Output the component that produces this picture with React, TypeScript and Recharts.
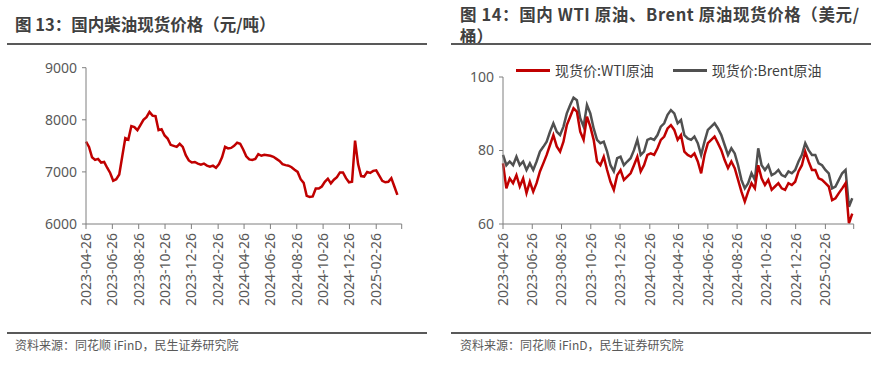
import React from "react";
import { LineChart, Line, XAxis, YAxis } from "recharts";

// weekly readings, starting 2023-04-26
const dieselPrice = [
  7580, 7480, 7280, 7230, 7250, 7180, 7190, 7080, 6980, 6830,
  6860, 6950, 7300, 7650, 7620, 7880, 7860, 7800, 7900, 8000,
  8050, 8150, 8080, 8070, 7800, 7820, 7700, 7640, 7520, 7500,
  7480, 7540, 7480, 7320, 7220, 7180, 7190, 7160, 7140, 7160,
  7120, 7100, 7120, 7080, 7150, 7280, 7480, 7450, 7460, 7500,
  7560, 7540, 7430, 7300, 7240, 7230, 7250, 7340, 7310, 7330,
  7320, 7310, 7290, 7250, 7210, 7150, 7130, 7120, 7090, 7040,
  7000, 6860, 6790, 6540, 6520, 6530, 6680, 6680, 6720, 6810,
  6870, 6780, 6850, 6900, 6990, 6990, 6880, 6800, 6810, 7600,
  7150, 6920, 6910, 7000, 6980, 7020, 7030, 6930, 6830, 6800,
  6810, 6880, 6720, 6560,
];

const wtiPrice = [
  76.5, 69.7, 72.4, 71.1, 73.3, 70.2, 72.4, 68.4, 71.5, 68.8,
  71.1, 74.3, 76.5, 78.8, 81.5, 84.2, 81.1, 79.7, 82.4, 86.9,
  89.2, 91.5, 90.6, 85.1, 82.9, 89.2, 86.5, 82.9, 77.0, 76.0,
  78.3, 74.7, 71.5, 69.3, 73.3, 74.7, 72.0, 72.9, 73.8, 76.0,
  78.3, 74.3, 76.0, 78.8, 79.2, 78.8, 80.6, 82.9, 83.8, 86.0,
  86.9, 85.6, 82.9, 84.2, 79.7, 78.8, 78.3, 79.2, 77.0, 73.8,
  78.8, 82.0, 82.9, 83.8, 82.0, 80.1, 77.4, 75.2, 77.0, 75.2,
  72.0, 68.8, 66.1, 68.8, 71.1, 69.7, 76.0, 72.4, 70.6, 72.0,
  69.3, 70.2, 71.1, 69.7, 69.3, 71.1, 70.6, 71.5, 74.3, 76.0,
  79.7, 77.0, 74.7, 74.7, 72.4, 72.0, 71.1, 70.2, 66.5, 67.0,
  68.4, 69.7, 71.1, 60.2, 62.8,
];

const brentPrice = [
  78.8, 76.0, 77.0, 76.0, 78.3, 76.0, 77.0, 74.7, 76.5, 74.7,
  77.0, 79.7, 81.0, 82.4, 85.1, 87.4, 85.1, 84.2, 86.5, 90.1,
  92.4, 94.4, 93.7, 88.8, 86.5, 92.4, 90.1, 86.0, 82.9, 82.0,
  82.4, 79.7, 76.0, 74.3, 77.9, 78.3, 76.0, 77.0, 77.9, 80.1,
  82.9, 78.8, 79.7, 82.9, 83.3, 82.9, 84.2, 86.5, 87.4, 89.7,
  91.0, 90.1, 87.4, 88.3, 84.2, 83.3, 82.9, 83.8, 82.0, 78.8,
  82.4, 85.6, 86.5, 87.4, 86.0, 84.2, 81.5, 78.8, 80.6, 79.2,
  76.0, 72.0, 69.7, 71.1, 73.8, 72.0, 80.6, 76.0, 74.7, 76.0,
  73.3, 73.8, 74.7, 73.3, 72.9, 74.3, 73.8, 74.7, 77.0, 78.8,
  82.0, 80.1, 78.8, 78.8, 76.5, 76.0, 74.7, 73.8, 69.7, 70.2,
  72.0, 73.8, 74.7, 64.7, 67.0,
];

const tickLabels = [
  "2023-04-26", "2023-06-26", "2023-08-26", "2023-10-26", "2023-12-26", "2024-02-26",
  "2024-04-26", "2024-06-26", "2024-08-26", "2024-10-26", "2024-12-26", "2025-02-26",
];
const axisEnd = "2025-04-26";

const dieselTicks = [6000, 7000, 8000, 9000];
const crudeTicks = [60, 80, 100];

const START = Date.parse("2023-04-26");
const WEEK = 7 * 86400000;
const weekDate = (i: number) => START + i * WEEK;

const dieselData = dieselPrice.map((v, i) => ({ t: weekDate(i), diesel: v }));
const crudeData = wtiPrice.map((v, i) => ({ t: weekDate(i), wti: v, brent: brentPrice[i] }));

const xTicks = [...tickLabels, axisEnd].map(d => Date.parse(d));
const xDomain = [START, Date.parse(axisEnd)];

const RED = "#C00000";
const GREY = "#505050";
const AXIS = "#7f7f7f";
const TEXT = "#595959";
const FONT = "'Noto Sans', 'Noto Sans CJK SC', sans-serif";
const CJK = "'Noto Sans CJK SC', 'Noto Sans', sans-serif";

function fmt(ts: number) {
  return new Date(ts).toISOString().slice(0, 10);
}

function DateTick(props: { x?: number; y?: number; payload?: { value: number } }) {
  const { x = 0, y = 0, payload } = props;
  if (!payload) return null;
  const label = fmt(payload.value);
  if (label === axisEnd) return null;
  return (
    <text
      x={x} y={y + 2}
      transform={`rotate(-90 ${x} ${y + 2})`}
      textAnchor="end" dy="0.35em"
      fontSize={14} fill={TEXT} fontFamily={FONT}
    >
      {label}
    </text>
  );
}

const xAxisProps = {
  dataKey: "t",
  type: "number" as const,
  domain: xDomain,
  ticks: xTicks,
  interval: 0 as const,
  height: 90,
  tickSize: 5,
  stroke: AXIS,
  tick: <DateTick />,
};

const yTick = { fontSize: 14, fill: TEXT, fontFamily: FONT };

const titleStyle: React.CSSProperties = {
  position: "absolute", fontWeight: 700, color: "#404040", whiteSpace: "nowrap",
};

export default function App() {
  return (
    <div style={{ position: "absolute", left: 0, top: 0, width: 884, height: 365, background: "#fff", fontFamily: CJK }}>
      {/* left panel */}
      <div style={{ ...titleStyle, left: 15, top: 13, fontSize: 16.5, lineHeight: "22px" }}>
        图 13：国内柴油现货价格（元/吨）
      </div>
      <div style={{ position: "absolute", left: 7, top: 43, width: 420, height: 1.5, background: "#595959" }} />
      <div style={{ position: "absolute", left: 0, top: 0 }}>
        <LineChart width={442} height={365} data={dieselData} margin={{ top: 67.7, right: 40.3, bottom: 51, left: 26 }}>
          <XAxis {...xAxisProps} />
          <YAxis
            width={60} domain={[6000, 9000]} ticks={dieselTicks} interval={0}
            tickSize={4} tickMargin={5} stroke={AXIS} tick={yTick}
          />
          <Line dataKey="diesel" stroke={RED} strokeWidth={2.5} dot={false} isAnimationActive={false} />
        </LineChart>
      </div>
      <div style={{ position: "absolute", left: 7, top: 332, width: 420, height: 1.5, background: "#595959" }} />
      <div style={{ position: "absolute", left: 15, top: 337, fontSize: 12, color: TEXT, whiteSpace: "nowrap", lineHeight: "16px" }}>
        资料来源：同花顺 iFinD，民生证券研究院
      </div>

      {/* right panel */}
      <div style={{ ...titleStyle, left: 460, top: 5, fontSize: 16.5, letterSpacing: 0.6, lineHeight: "18px" }}>
        图 14：国内 WTI 原油、Brent 原油现货价格（美元/
      </div>
      <div style={{ ...titleStyle, left: 460, top: 27, fontSize: 16.5, lineHeight: "18px" }}>
        桶）
      </div>
      <div style={{ position: "absolute", left: 451, top: 43, width: 420, height: 1.5, background: "#595959" }} />
      <div style={{ position: "absolute", left: 442, top: 0 }}>
        <LineChart width={442} height={365} data={crudeData} margin={{ top: 77, right: 30.3, bottom: 51, left: 11 }}>
          <XAxis {...xAxisProps} />
          <YAxis
            width={50} domain={[60, 100]} ticks={crudeTicks} interval={0}
            tickSize={4} tickMargin={5} stroke={AXIS} tick={yTick}
          />
          <Line dataKey="brent" stroke={GREY} strokeWidth={2.5} dot={false} isAnimationActive={false} />
          <Line dataKey="wti" stroke={RED} strokeWidth={2.5} dot={false} isAnimationActive={false} />
        </LineChart>
      </div>
      <div style={{ position: "absolute", left: 516, top: 61, display: "flex", alignItems: "center", fontSize: 14, color: "#404040", whiteSpace: "nowrap", height: 18 }}>
        <span style={{ display: "inline-block", width: 34, height: 3, background: RED, marginRight: 5 }} />
        <span>现货价:WTI原油</span>
        <span style={{ display: "inline-block", width: 34, height: 3, background: GREY, marginLeft: 19, marginRight: 5 }} />
        <span>现货价:Brent原油</span>
      </div>
      <div style={{ position: "absolute", left: 451, top: 332, width: 420, height: 1.5, background: "#595959" }} />
      <div style={{ position: "absolute", left: 460, top: 337, fontSize: 12, color: TEXT, whiteSpace: "nowrap", lineHeight: "16px" }}>
        资料来源：同花顺 iFinD，民生证券研究院
      </div>
    </div>
  );
}
